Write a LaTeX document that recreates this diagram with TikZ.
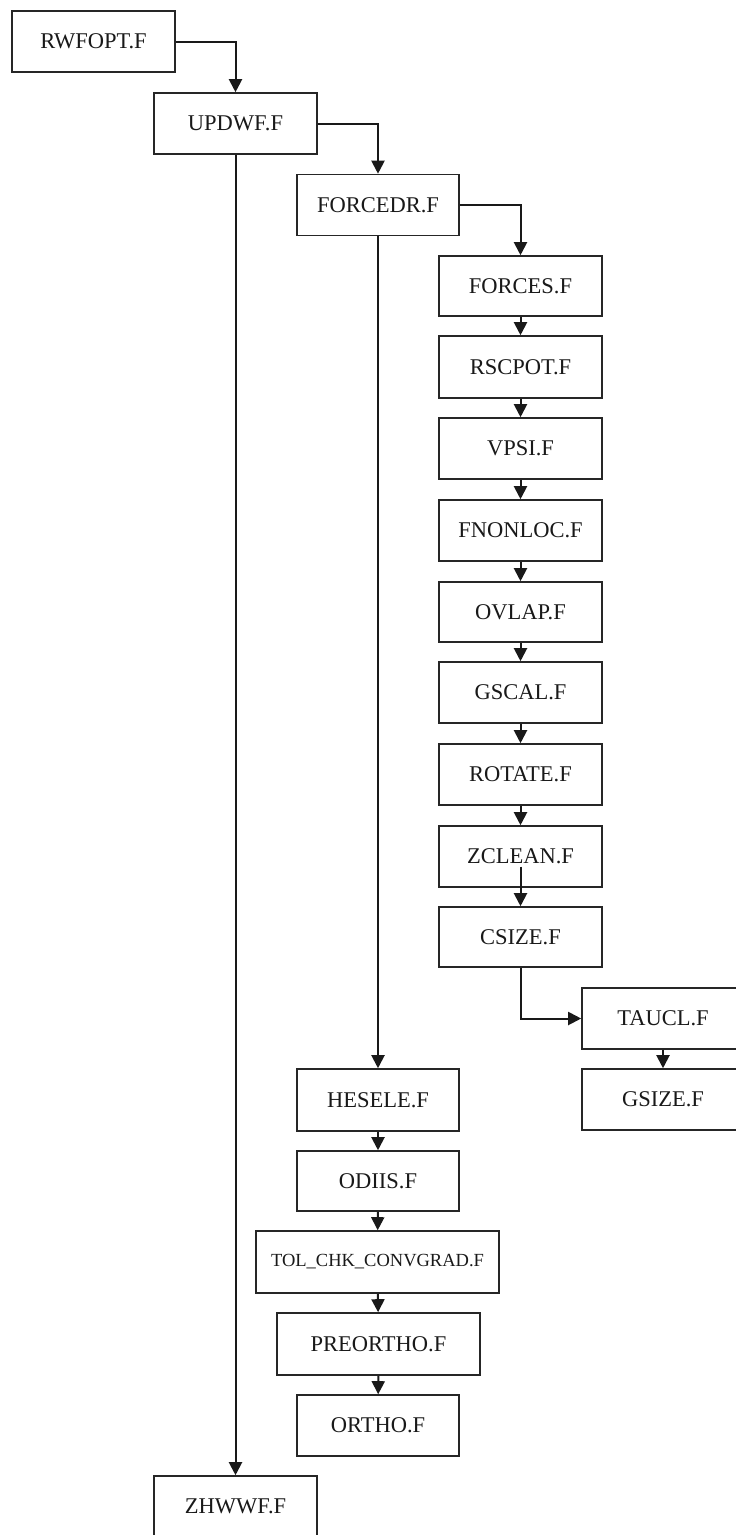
\documentclass[tikz,border=0pt]{standalone}
\usepackage{fontspec}
\setmainfont{Liberation Serif}
\usetikzlibrary{arrows.meta}
\begin{document}
\begin{tikzpicture}[x=1pt,y=-1pt,
  fbox/.style={draw=black!85,line width=1.6pt,minimum height=61pt,minimum width=163pt,inner sep=0pt,font=\fontsize{22.5}{22.5}\selectfont,text=black!90},
  conn/.style={draw=black!90,line width=2pt,-{Triangle[length=13pt,width=13pt]}}]
\useasboundingbox (0,0) rectangle (736,1535);
\clip (0,0) rectangle (736,1535);
\fill[white] (0,0) rectangle (736,1535);
\node[fbox] (rwfopt) at (93.5,41.5) {RWFOPT.F};
\node[fbox] (updwf) at (235.5,123.5) {UPDWF.F};
\node[fbox,minimum width=162pt] (forcedr) at (378,205) {FORCEDR.F};
\node[fbox,minimum height=60pt] (forces) at (520.5,286) {FORCES.F};
\node[fbox,minimum height=62pt] (rscpot) at (520.5,367) {RSCPOT.F};
\node[fbox] (vpsi) at (520.5,448.5) {VPSI.F};
\node[fbox] (fnonloc) at (520.5,530.5) {FNONLOC.F};
\node[fbox,minimum height=60pt] (ovlap) at (520.5,612) {OVLAP.F};
\node[fbox] (gscal) at (520.5,692.5) {GSCAL.F};
\node[fbox] (rotate) at (520.5,774.5) {ROTATE.F};
\node[fbox] (zclean) at (520.5,856.5) {ZCLEAN.F};
\node[fbox,minimum height=60pt] (csize) at (520.5,937) {CSIZE.F};
\node[fbox,minimum width=162pt] (taucl) at (663,1018.5) {TAUCL.F};
\node[fbox,minimum width=162pt] (gsize) at (663,1099.5) {GSIZE.F};
\node[fbox,minimum width=162pt,minimum height=62pt] (hesele) at (378,1100) {HESELE.F};
\node[fbox,minimum width=162pt,minimum height=60pt] (odiis) at (378,1181) {ODIIS.F};
\node[fbox,minimum width=243pt,minimum height=62pt,font=\fontsize{18.5}{18.5}\selectfont] (tol) at (377.5,1262) {TOL\_CHK\_CONVGRAD.F};
\node[fbox,minimum width=203pt,minimum height=62pt] (preortho) at (378.5,1344) {PREORTHO.F};
\node[fbox,minimum width=162pt] (ortho) at (378,1425.5) {ORTHO.F};
\node[fbox] (zhwwf) at (235.5,1506.5) {ZHWWF.F};
\draw[conn] (rwfopt.east) -| (updwf.north);
\draw[conn] (updwf.east) -| (forcedr.north);
\draw[conn] (forcedr.east) -| (forces.north);
\draw[conn] (forces) -- (rscpot);
\draw[conn] (rscpot) -- (vpsi);
\draw[conn] (vpsi) -- (fnonloc);
\draw[conn] (fnonloc) -- (ovlap);
\draw[conn] (ovlap) -- (gscal);
\draw[conn] (gscal) -- (rotate);
\draw[conn] (rotate) -- (zclean);
\draw[conn] ([yshift=-10pt]zclean.center) -- (csize.north);
\draw[conn] (csize.south) |- (taucl.west);
\draw[conn] (taucl) -- (gsize);
\draw[conn] (updwf.south) -- (zhwwf.north);
\draw[conn] (forcedr.south) -- (hesele.north);
\draw[conn] (hesele) -- (odiis);
\draw[conn] (odiis) -- (tol);
\draw[conn] (tol) -- (preortho);
\draw[conn] (preortho) -- (ortho);
\end{tikzpicture}
\end{document}
